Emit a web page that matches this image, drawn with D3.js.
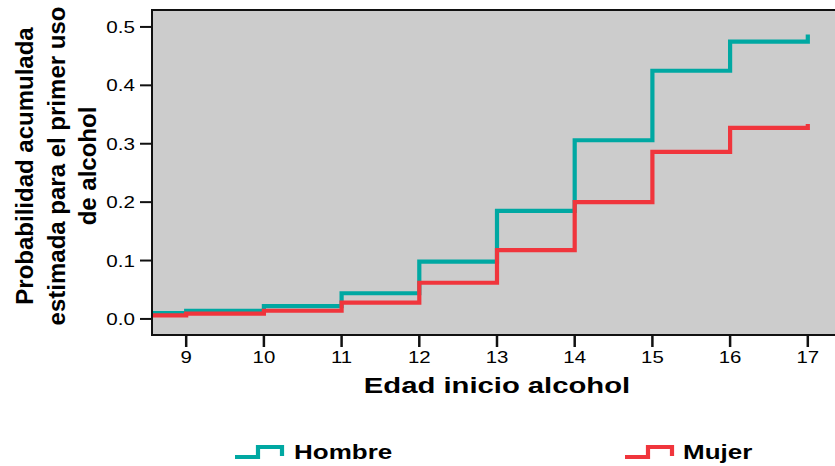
<!DOCTYPE html>
<html>
<head>
<meta charset="utf-8">
<script src="https://cdn.jsdelivr.net/npm/d3@7"></script>
<style>
  html, body { margin: 0; padding: 0; background: #ffffff; }
  svg { display: block; }
  text { font-family: "Liberation Sans", Arial, Helvetica, sans-serif; fill: #000; }
</style>
</head>
<body>
<svg id="chart" width="835" height="466"></svg>
<script>
// ---------------- data ----------------
const ages = [9, 10, 11, 12, 13, 14, 15, 16, 17];
const xTicks = [9, 10, 11, 12, 13, 14, 15, 16, 17];
const yTicks = [0.0, 0.1, 0.2, 0.3, 0.4, 0.5];
const yTickLabels = ["0.0", "0.1", "0.2", "0.3", "0.4", "0.5"];
const seriesNames = ["Hombre", "Mujer"];
const hombreStart = 0.010;
const hombre = [0.014, 0.022, 0.044, 0.098, 0.185, 0.306, 0.425, 0.475, 0.487];
const mujerStart = 0.006;
const mujer = [0.009, 0.014, 0.028, 0.062, 0.118, 0.200, 0.286, 0.327, 0.334];
const xDomain = [8.56, 17.35];
const yDomain = [-0.0275, 0.529];
const xTitle = "Edad inicio alcohol";
const yTitleLines = ["Probabilidad acumulada", "estimada para el primer uso", "de alcohol"];

// ---------------- layout ----------------
const colors = { Hombre: "#00A8A2", Mujer: "#F0353C" };
const plot = { left: 152, right: 835, top: 10, bottom: 335 };
const svg = d3.select("#chart");

const x = d3.scaleLinear().domain(xDomain).range([plot.left, plot.right]);
const y = d3.scaleLinear().domain(yDomain).range([plot.bottom, plot.top]);

// plot background
svg.append("rect")
  .attr("x", plot.left).attr("y", plot.top)
  .attr("width", plot.right - plot.left + 2).attr("height", plot.bottom - plot.top)
  .attr("fill", "#CCCCCC");

// step lines
function stepPoints(start, vals) {
  const pts = [[xDomain[0], start]];
  let prev = start;
  ages.forEach((a, i) => {
    pts.push([a, prev]);
    pts.push([a, vals[i]]);
    prev = vals[i];
  });
  return pts;
}
const line = d3.line().x(d => x(d[0])).y(d => y(d[1]));
const series = [
  { name: "Hombre", pts: stepPoints(hombreStart, hombre) },
  { name: "Mujer", pts: stepPoints(mujerStart, mujer) }
];
svg.append("g").selectAll("path").data(series).join("path")
  .attr("d", d => line(d.pts))
  .attr("fill", "none")
  .attr("stroke", d => colors[d.name])
  .attr("stroke-width", 4.2)
  .attr("stroke-linejoin", "miter")
  .attr("stroke-linecap", "butt");

// frame (left, top, bottom)
svg.append("path")
  .attr("d", `M${plot.right + 2},${plot.top} H${plot.left} V${plot.bottom} H${plot.right + 2}`)
  .attr("fill", "none").attr("stroke", "#111").attr("stroke-width", 2);

// y axis ticks
const yAxis = svg.append("g");
yAxis.selectAll("line").data(yTicks).join("line")
  .attr("x1", plot.left - 12).attr("x2", plot.left)
  .attr("y1", d => y(d)).attr("y2", d => y(d))
  .attr("stroke", "#111").attr("stroke-width", 2);
yAxis.selectAll("g").data(yTicks).join("g")
  .attr("transform", d => `translate(${plot.left - 17},${y(d) + 6}) scale(1.25,1)`)
  .append("text")
  .attr("text-anchor", "end")
  .style("font-size", "16.5px")
  .text((d, i) => yTickLabels[i]);

// x axis ticks
const xAxis = svg.append("g");
xAxis.selectAll("line").data(xTicks).join("line")
  .attr("x1", d => x(d)).attr("x2", d => x(d))
  .attr("y1", plot.bottom).attr("y2", plot.bottom + 12)
  .attr("stroke", "#111").attr("stroke-width", 2.5);
xAxis.selectAll("g").data(xTicks).join("g")
  .attr("transform", d => `translate(${x(d)},${plot.bottom + 28}) scale(1.2,1)`)
  .append("text")
  .attr("text-anchor", "middle")
  .style("font-size", "17px")
  .text(d => d);

// x title
svg.append("g")
  .attr("transform", `translate(${(x(9) + x(17)) / 2},393) scale(1.3,1)`)
  .append("text")
  .attr("text-anchor", "middle")
  .style("font-size", "22.5px").style("font-weight", "bold")
  .text(xTitle);

// y title
const yt = svg.append("g");
yTitleLines.forEach((t, i) => {
  yt.append("text")
    .attr("transform", `translate(${33 + i * 31.5},166) rotate(-90)`)
    .attr("text-anchor", "middle")
    .style("font-size", "24px").style("font-weight", "bold")
    .text(t);
});

// legend
const legendPos = [{ x: 235, tx: 294 }, { x: 625, tx: 683 }];
const lg = svg.append("g");
seriesNames.forEach((name, i) => {
  const p = legendPos[i];
  lg.append("path")
    .attr("d", `M${p.x},457 H${p.x + 23} V447 H${p.x + 47} V456`)
    .attr("fill", "none").attr("stroke", colors[name]).attr("stroke-width", 4.2);
  lg.append("g")
    .attr("transform", `translate(${p.tx},459) scale(1.3,1)`)
    .append("text")
    .style("font-size", "20px").style("font-weight", "bold")
    .text(name);
});
</script>
</body>
</html>
